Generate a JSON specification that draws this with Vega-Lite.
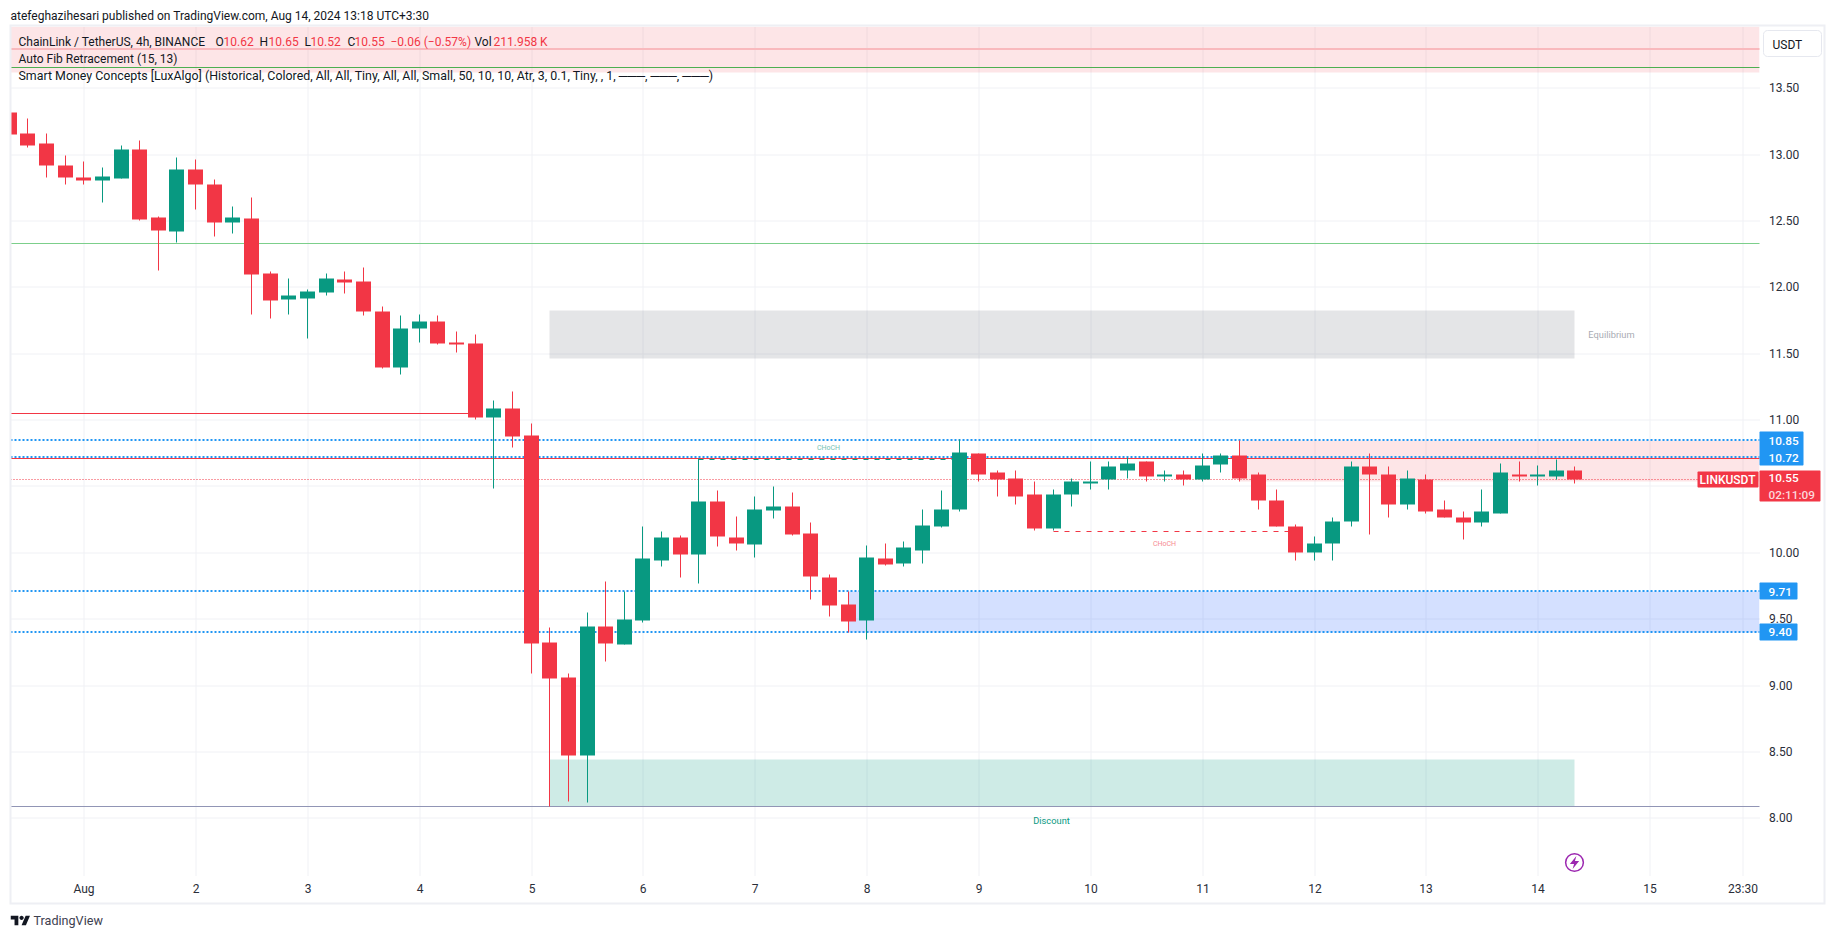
{
"$schema":"https://vega.github.io/schema/vega-lite/v6.json",
"width":1749,"height":849,
"autosize":{"type":"none"},
"padding":{"left":10.5,"top":26.5,"right":75.5,"bottom":63.5},
"background":"#ffffff",
"config":{"view":{"stroke":null},"text":{"font":"Roboto"}},
"datasets":{
"candles":[
{"bar":-4,"open":13.311,"high":13.311,"low":13.148,"close":13.148},
{"bar":-3,"open":13.153,"high":13.266,"low":13.048,"close":13.063},
{"bar":-2,"open":13.078,"high":13.153,"low":12.822,"close":12.912},
{"bar":-1,"open":12.912,"high":12.987,"low":12.769,"close":12.822},
{"bar":0,"open":12.822,"high":12.942,"low":12.769,"close":12.799},
{"bar":1,"open":12.799,"high":12.897,"low":12.633,"close":12.829},
{"bar":2,"open":12.814,"high":13.063,"low":12.814,"close":13.033},
{"bar":3,"open":13.033,"high":13.100,"low":12.498,"close":12.505},
{"bar":4,"open":12.520,"high":12.528,"low":12.121,"close":12.422},
{"bar":5,"open":12.415,"high":12.972,"low":12.332,"close":12.882},
{"bar":6,"open":12.882,"high":12.957,"low":12.581,"close":12.769},
{"bar":7,"open":12.769,"high":12.807,"low":12.377,"close":12.483},
{"bar":8,"open":12.483,"high":12.603,"low":12.400,"close":12.520},
{"bar":9,"open":12.513,"high":12.671,"low":11.790,"close":12.091},
{"bar":10,"open":12.098,"high":12.114,"low":11.760,"close":11.895},
{"bar":11,"open":11.903,"high":12.061,"low":11.790,"close":11.933},
{"bar":12,"open":11.910,"high":11.978,"low":11.609,"close":11.963},
{"bar":13,"open":11.955,"high":12.098,"low":11.933,"close":12.061},
{"bar":14,"open":12.053,"high":12.114,"low":11.948,"close":12.031},
{"bar":15,"open":12.038,"high":12.144,"low":11.782,"close":11.812},
{"bar":16,"open":11.812,"high":11.850,"low":11.383,"close":11.390},
{"bar":17,"open":11.390,"high":11.782,"low":11.337,"close":11.684},
{"bar":18,"open":11.684,"high":11.790,"low":11.579,"close":11.737},
{"bar":19,"open":11.737,"high":11.782,"low":11.564,"close":11.571},
{"bar":20,"open":11.579,"high":11.661,"low":11.503,"close":11.564},
{"bar":21,"open":11.571,"high":11.639,"low":10.999,"close":11.014},
{"bar":22,"open":11.014,"high":11.142,"low":10.479,"close":11.081},
{"bar":23,"open":11.081,"high":11.210,"low":10.788,"close":10.870},
{"bar":24,"open":10.882,"high":10.972,"low":9.089,"close":9.315},
{"bar":25,"open":9.322,"high":9.435,"low":8.084,"close":9.051},
{"bar":26,"open":9.059,"high":9.089,"low":8.124,"close":8.471},
{"bar":27,"open":8.471,"high":9.548,"low":8.117,"close":9.443},
{"bar":28,"open":9.443,"high":9.782,"low":9.179,"close":9.315},
{"bar":29,"open":9.307,"high":9.707,"low":9.307,"close":9.496},
{"bar":30,"open":9.488,"high":10.196,"low":9.473,"close":9.955},
{"bar":31,"open":9.940,"high":10.158,"low":9.895,"close":10.113},
{"bar":32,"open":10.113,"high":10.128,"low":9.812,"close":9.985},
{"bar":33,"open":9.985,"high":10.706,"low":9.767,"close":10.385},
{"bar":34,"open":10.385,"high":10.467,"low":10.046,"close":10.121},
{"bar":35,"open":10.113,"high":10.271,"low":10.015,"close":10.068},
{"bar":36,"open":10.061,"high":10.422,"low":9.963,"close":10.324},
{"bar":37,"open":10.317,"high":10.498,"low":10.256,"close":10.347},
{"bar":38,"open":10.347,"high":10.452,"low":10.128,"close":10.136},
{"bar":39,"open":10.143,"high":10.226,"low":9.646,"close":9.819},
{"bar":40,"open":9.812,"high":9.835,"low":9.518,"close":9.601},
{"bar":41,"open":9.608,"high":9.707,"low":9.398,"close":9.480},
{"bar":42,"open":9.488,"high":10.053,"low":9.345,"close":9.963},
{"bar":43,"open":9.955,"high":10.068,"low":9.902,"close":9.910},
{"bar":44,"open":9.917,"high":10.083,"low":9.895,"close":10.038},
{"bar":45,"open":10.015,"high":10.324,"low":9.917,"close":10.204},
{"bar":46,"open":10.196,"high":10.467,"low":10.189,"close":10.324},
{"bar":47,"open":10.322,"high":10.850,"low":10.305,"close":10.750},
{"bar":48,"open":10.741,"high":10.748,"low":10.537,"close":10.590},
{"bar":49,"open":10.598,"high":10.620,"low":10.417,"close":10.550},
{"bar":50,"open":10.560,"high":10.613,"low":10.357,"close":10.424},
{"bar":51,"open":10.439,"high":10.530,"low":10.161,"close":10.176},
{"bar":52,"open":10.176,"high":10.470,"low":10.161,"close":10.432},
{"bar":53,"open":10.432,"high":10.560,"low":10.349,"close":10.530},
{"bar":54,"open":10.522,"high":10.681,"low":10.477,"close":10.537},
{"bar":55,"open":10.545,"high":10.681,"low":10.470,"close":10.643},
{"bar":56,"open":10.620,"high":10.718,"low":10.560,"close":10.673},
{"bar":57,"open":10.681,"high":10.681,"low":10.537,"close":10.575},
{"bar":58,"open":10.575,"high":10.620,"low":10.530,"close":10.585},
{"bar":59,"open":10.590,"high":10.620,"low":10.507,"close":10.545},
{"bar":60,"open":10.552,"high":10.748,"low":10.530,"close":10.658},
{"bar":61,"open":10.665,"high":10.741,"low":10.598,"close":10.726},
{"bar":62,"open":10.726,"high":10.839,"low":10.530,"close":10.560},
{"bar":63,"open":10.583,"high":10.598,"low":10.319,"close":10.394},
{"bar":64,"open":10.387,"high":10.470,"low":10.191,"close":10.191},
{"bar":65,"open":10.198,"high":10.213,"low":9.942,"close":9.995},
{"bar":66,"open":9.995,"high":10.123,"low":9.942,"close":10.070},
{"bar":67,"open":10.070,"high":10.266,"low":9.942,"close":10.236},
{"bar":68,"open":10.229,"high":10.681,"low":10.198,"close":10.643},
{"bar":69,"open":10.643,"high":10.748,"low":10.138,"close":10.583},
{"bar":70,"open":10.590,"high":10.650,"low":10.259,"close":10.364},
{"bar":71,"open":10.364,"high":10.620,"low":10.319,"close":10.560},
{"bar":72,"open":10.552,"high":10.590,"low":10.289,"close":10.311},
{"bar":73,"open":10.319,"high":10.387,"low":10.259,"close":10.259},
{"bar":74,"open":10.266,"high":10.311,"low":10.093,"close":10.221},
{"bar":75,"open":10.221,"high":10.477,"low":10.198,"close":10.311},
{"bar":76,"open":10.289,"high":10.673,"low":10.289,"close":10.598},
{"bar":77,"open":10.590,"high":10.688,"low":10.537,"close":10.575},
{"bar":78,"open":10.575,"high":10.658,"low":10.507,"close":10.590},
{"bar":79,"open":10.575,"high":10.703,"low":10.552,"close":10.613},
{"bar":80,"open":10.62,"high":10.65,"low":10.52,"close":10.55}
],
"zones":[
{"kind":"top","bar":-3.932,"bar_end":89.9,"price":13.962,"price_end":13.617},
{"kind":"equilibrium","bar":25,"bar_end":80,"price":11.820,"price_end":11.458},
{"kind":"discount","bar":25,"bar_end":80,"price":8.441,"price_end":8.084},
{"kind":"demand","bar":41,"bar_end":89.9,"price":9.707,"price_end":9.398},
{"kind":"supply","bar":62,"bar_end":89.9,"price":10.839,"price_end":10.532}
],
"solid":[
{"kind":"green","bar":-3.932,"bar_end":89.9,"price":12.329},
{"kind":"swing","bar":-3.932,"bar_end":89.9,"price":13.651},
{"kind":"red","bar":-3.932,"bar_end":21,"price":11.049},
{"kind":"red","bar":-3.932,"bar_end":89.9,"price":10.710},
{"kind":"low","bar":-3.932,"bar_end":89.9,"price":8.083}
]
},
"encoding":{
"x":{"field":"bar","type":"quantitative","title":null,
 "scale":{"domain":[-3.932,89.9],"nice":false,"zero":false,"round":true,"padding":0},
 "axis":{"values":[0,6,12,18,24,30,36,42,48,54,60,66,72,78,84,89],"labelExpr":"datum.value==0?'Aug':datum.value==89?'23:30':''+(datum.value/6+1)","domain":false,"ticks":false,"grid":true,"gridColor":"#f0f1f5","gridWidth":1,"labelFont":"Roboto","labelFontSize":12,"labelColor":"#2a2e39","labelPadding":13,"labelBaseline":"middle","labelFlush":false,"labelOverlap":false,"title":null}},
"y":{"field":"price","type":"quantitative","title":null,
 "scale":{"domain":[7.565,13.962],"nice":false,"zero":false,"round":true,"padding":0},
 "axis":{"orient":"right","values":[8,8.5,9,9.5,10,10.5,11,11.5,12,12.5,13,13.5],"format":".2f","domain":false,"ticks":false,"grid":true,"gridColor":"#f0f1f5","gridWidth":1,"labelFont":"Roboto","labelFontSize":12,"labelColor":"#2a2e39","labelPadding":9,"labelAlign":"left","labelOverlap":false,"title":null}}
},
"resolve":{"scale":{"color":"independent","stroke":"independent"}},
"layer":[
{"data":{"name":"zones"},"mark":{"type":"rect","strokeWidth":1,"clip":true},
 "encoding":{"x2":{"field":"bar_end"},"y2":{"field":"price_end"},
 "color":{"field":"kind","type":"nominal","legend":null,"scale":{"domain":["top","equilibrium","discount","demand","supply"],"range":["rgba(242,54,69,0.13)","rgba(120,123,134,0.2)","rgba(8,153,129,0.2)","rgba(41,98,255,0.2)","rgba(242,54,69,0.13)"]}}}},
{"data":{"values":[{"bar":33,"bar_end":47,"price":10.700}]},"mark":{"type":"rule","strokeWidth":1,"strokeDash":[5,6],"color":"#089981"},"encoding":{"x2":{"field":"bar_end"}}},
{"data":{"values":[{"bar":52,"bar_end":65,"price":10.160}]},"mark":{"type":"rule","strokeWidth":1,"strokeDash":[5,6],"color":"#F23645"},"encoding":{"x2":{"field":"bar_end"}}},
{"data":{"name":"solid"},"mark":{"type":"rule","strokeWidth":1},
 "encoding":{"x2":{"field":"bar_end"},
 "color":{"field":"kind","type":"nominal","legend":null,"scale":{"domain":["green","swing","red","low"],"range":["#7ccf8b","#4caf50","#F23645","#9195b5"]}}}},
{"data":{"values":[{"bar":-3.932,"bar_end":89.9,"price":13.797}]},"mark":{"type":"rule","strokeWidth":2,"yOffset":0.5,"color":"#f9b9bd"},"encoding":{"x2":{"field":"bar_end"}}},
{"data":{"values":[{"bar":-3.932,"bar_end":89.9,"price":10.848},{"bar":-3.932,"bar_end":89.9,"price":10.722},{"bar":-3.932,"bar_end":89.9,"price":9.714},{"bar":-3.932,"bar_end":89.9,"price":9.405}]},"mark":{"type":"rule","strokeWidth":2,"yOffset":0.5,"strokeDash":[2,2],"color":"#2196f3"},"encoding":{"x2":{"field":"bar_end"}}},
{"data":{"values":[{"bar":-3.932,"bar_end":89.9,"price":10.55}]},"mark":{"type":"rule","strokeWidth":1,"strokeDash":[1,2],"color":"#F23645"},"encoding":{"x2":{"field":"bar_end"}}},
{"data":{"name":"candles"},"mark":{"type":"rule","strokeWidth":1,"clip":true},
 "encoding":{"y":{"field":"high","type":"quantitative","title":null,"axis":{"orient":"right","values":[8,8.5,9,9.5,10,10.5,11,11.5,12,12.5,13,13.5],"format":".2f","domain":false,"ticks":false,"grid":true,"gridColor":"#f0f1f5","gridWidth":1,"labelFont":"Roboto","labelFontSize":12,"labelColor":"#2a2e39","labelPadding":9,"labelAlign":"left","labelOverlap":false,"title":null},"scale":{"domain":[7.565,13.962],"nice":false,"zero":false,"round":true,"padding":0}},"y2":{"field":"low"},
 "color":{"condition":{"test":"datum.close>=datum.open","value":"#089981"},"value":"#F23645"}}},
{"data":{"name":"candles"},"mark":{"type":"bar","size":15,"orient":"vertical","clip":true},
 "encoding":{"y":{"field":"open","type":"quantitative","title":null,"axis":{"orient":"right","values":[8,8.5,9,9.5,10,10.5,11,11.5,12,12.5,13,13.5],"format":".2f","domain":false,"ticks":false,"grid":true,"gridColor":"#f0f1f5","gridWidth":1,"labelFont":"Roboto","labelFontSize":12,"labelColor":"#2a2e39","labelPadding":9,"labelAlign":"left","labelOverlap":false,"title":null},"scale":{"domain":[7.565,13.962],"nice":false,"zero":false,"round":true,"padding":0}},"y2":{"field":"close"},
 "color":{"condition":{"test":"datum.close>=datum.open","value":"#089981"},"value":"#F23645"}}},
{"data":{"values":[{"bar":39.95,"price":10.792,"note":"CHoCH","kind":"up"},{"bar":58,"price":10.069,"note":"CHoCH","kind":"down"}]},"mark":{"type":"text","fontSize":7,"align":"center","baseline":"middle","opacity":0.6},
 "encoding":{"text":{"field":"note"},"color":{"field":"kind","type":"nominal","legend":null,"scale":{"domain":["up","down"],"range":["#089981","#F23645"]}}}},
{"data":{"values":[{"bar":51.9,"price":7.98,"note":"Discount","kind":"up"},{"bar":81.96,"price":11.644,"note":"Equilibrium","kind":"mid"}]},"mark":{"type":"text","fontSize":9.3,"align":"center","baseline":"middle"},
 "encoding":{"text":{"field":"note"},"color":{"field":"kind","type":"nominal","legend":null,"scale":{"domain":["up","mid"],"range":["#089981","#a9abb3"]}}}},
{"data":{"values":[{"bar":-3.95,"bar_end":93.4,"price":13.966,"price_end":7.354}]},"mark":{"type":"rect","filled":false,"stroke":"#eeeff4","strokeWidth":2},"encoding":{"x2":{"field":"bar_end"},"y2":{"field":"price_end"}}},
{"data":{"values":[
{"bar":-3.932,"price":14.045,"note":"atefeghazihesari published on TradingView.com, Aug 14, 2024 13:18 UTC+3:30","kind":"dark"},
{"bar":-3.503,"price":13.851,"note":"ChainLink / TetherUS, 4h, BINANCE","kind":"dark"},
{"bar":7.05,"price":13.851,"note":"O","kind":"dark"},
{"bar":7.49,"price":13.851,"note":"10.62","kind":"red"},
{"bar":9.44,"price":13.851,"note":"H","kind":"dark"},
{"bar":9.91,"price":13.851,"note":"10.65","kind":"red"},
{"bar":11.84,"price":13.851,"note":"L","kind":"dark"},
{"bar":12.16,"price":13.851,"note":"10.52","kind":"red"},
{"bar":14.17,"price":13.851,"note":"C","kind":"dark"},
{"bar":14.52,"price":13.851,"note":"10.55","kind":"red"},
{"bar":16.45,"price":13.851,"note":"−0.06 (−0.57%)","kind":"red"},
{"bar":20.95,"price":13.851,"note":"Vol","kind":"dark"},
{"bar":22.0,"price":13.851,"note":"211.958 K","kind":"red"},
{"bar":-3.503,"price":13.718,"note":"Auto Fib Retracement (15, 13)","kind":"dark"}
]},"mark":{"type":"text","fontSize":12,"align":"left","baseline":"middle"},
 "encoding":{"text":{"field":"note"},"color":{"field":"kind","type":"nominal","legend":null,"scale":{"domain":["dark","red"],"range":["#131722","#F23645"]}}}},
{"data":{"values":[{"bar":-2.68,"price":7.229,"note":"TradingView"}]},"mark":{"type":"text","fontSize":12.6,"align":"left","baseline":"middle","color":"#3d4150"},"encoding":{"text":{"field":"note"}}},
{"data":{"values":[{"bar":-3.503,"price":13.593,"note":"Smart Money Concepts [LuxAlgo] (Historical, Colored, All, All, Tiny, All, All, Small, 50, 10, 10, Atr, 3, 0.1, Tiny, , 1, ───, ───, ───)"}]},"mark":{"type":"text","fontSize":12.4,"align":"left","baseline":"middle","color":"#131722"},"encoding":{"text":{"field":"note"}}},
{"data":{"values":[
{"kind":"blue","bar":89.9,"bar_end":92.24,"price":10.910,"price_end":10.657},
{"kind":"blue","bar":89.9,"bar_end":91.92,"price":9.773,"price_end":9.645},
{"kind":"blue","bar":89.9,"bar_end":91.92,"price":9.464,"price_end":9.338},
{"kind":"red","bar":89.9,"bar_end":93.17,"price":10.617,"price_end":10.385},
{"kind":"red","bar":86.57,"bar_end":89.86,"price":10.611,"price_end":10.491}
]},"mark":{"type":"rect","cornerRadius":1},
 "encoding":{"x2":{"field":"bar_end"},"y2":{"field":"price_end"},"color":{"field":"kind","type":"nominal","legend":null,"scale":{"domain":["blue","red"],"range":["#2196f3","#F23645"]}}}},
{"data":{"values":[
{"bar":90.38,"price":10.845,"note":"10.85","kind":"solid"},
{"bar":90.38,"price":10.717,"note":"10.72","kind":"solid"},
{"bar":90.38,"price":10.562,"note":"10.55","kind":"solid"},
{"bar":90.38,"price":10.438,"note":"02:11:09","kind":"soft"},
{"bar":90.38,"price":9.705,"note":"9.71","kind":"solid"},
{"bar":90.38,"price":9.401,"note":"9.40","kind":"solid"}
]},"mark":{"type":"text","fontSize":11.8,"align":"left","baseline":"middle","fontWeight":500},
 "encoding":{"text":{"field":"note"},"color":{"field":"kind","type":"nominal","legend":null,"scale":{"domain":["solid","soft"],"range":["#ffffff","#fcd6da"]}}}},
{"data":{"values":[{"bar":88.2,"price":10.551,"note":"LINKUSDT"}]},"mark":{"type":"text","fontSize":12,"align":"center","baseline":"middle","color":"#ffffff","fontWeight":500},"encoding":{"text":{"field":"note"}}},
{"data":{"values":[{"bar":90.09,"bar_end":93.22,"price":13.932,"price_end":13.738}]},"mark":{"type":"rect","fill":"#ffffff","stroke":"#e6e8ef","strokeWidth":1,"cornerRadius":4},"encoding":{"x2":{"field":"bar_end"},"y2":{"field":"price_end"}}},
{"data":{"values":[{"bar":90.6,"price":13.828,"note":"USDT"}]},"mark":{"type":"text","fontSize":12,"align":"left","baseline":"middle","color":"#131722"},"encoding":{"text":{"field":"note"}}},
{"data":{"values":[{"bar":80,"price":7.661}]},"mark":{"type":"point","shape":"circle","filled":false,"size":314,"stroke":"#9c27b0","strokeWidth":1.5,"opacity":1},"encoding":{}},
{"data":{"values":[{"bar":80,"price":7.661}]},"mark":{"type":"point","shape":"M0.2,-0.7L-0.5,0.15L-0.05,0.15L-0.2,0.7L0.5,-0.15L0.05,-0.15Z","filled":true,"size":345,"color":"#9c27b0","opacity":1},"encoding":{}},
{"data":{"values":[{"bar":-3.41,"price":7.226}]},"mark":{"type":"point","shape":"M-0.222,0.5H-0.611V-0.111H-1V-0.5H-0.222ZM0.556,0.5H0.111L0.528,-0.5H0.972ZM-0.111,-0.278a0.222,0.222 0 1 0 0.444,0a0.222,0.222 0 1 0 -0.444,0Z","filled":true,"size":380,"color":"#131722","opacity":1},"encoding":{}}
]
}
